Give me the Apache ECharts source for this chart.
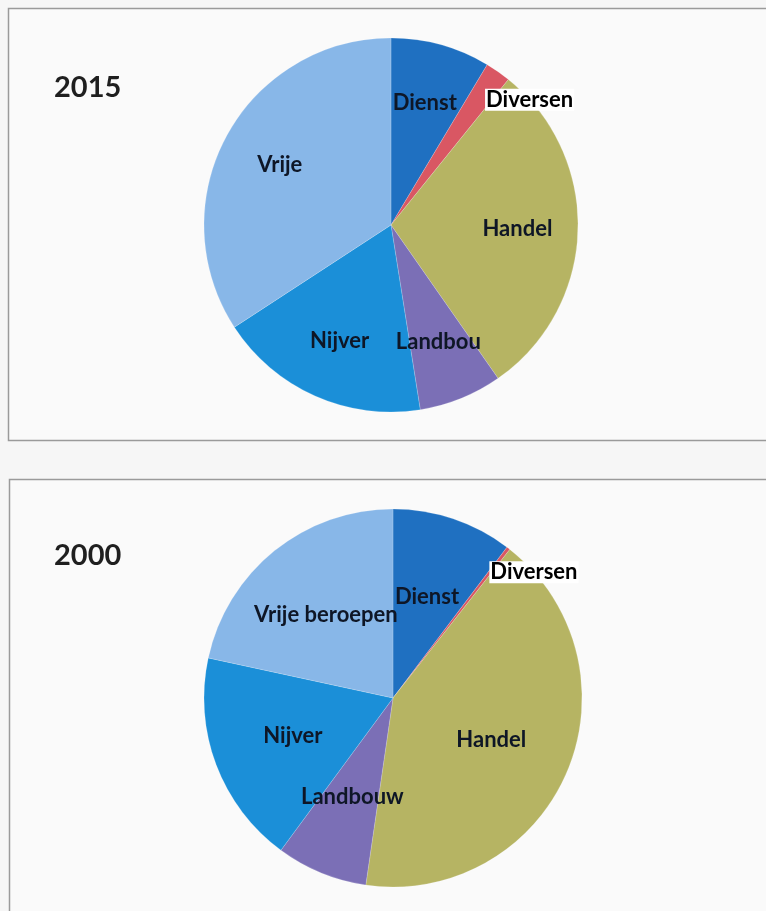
<!DOCTYPE html>
<html>
<head>
<meta charset="utf-8">
<script src="https://cdn.jsdelivr.net/npm/echarts@6/dist/echarts.min.js"></script>
<style>
  html, body { margin: 0; padding: 0; background: #f6f6f6; }
  #chart { width: 766px; height: 911px; }
</style>
</head>
<body>
<div id="chart"></div>
<script>
// Categories (full names) and the labels as they appear in each chart
const categories = ['Dienstverlening', 'Diversen', 'Handel', 'Landbouw', 'Nijverheid', 'Vrije beroepen'];
const labels2015 = ['Dienst', 'Diversen', 'Handel', 'Landbou', 'Nijver', 'Vrije'];
const labels2000 = ['Dienst', 'Diversen', 'Handel', 'Landbouw', 'Nijver', 'Vrije beroepen'];
// Shares in percent
const values2015 = [8.6, 2.2, 29.5, 7.2, 18.3, 34.2];
const values2000 = [10.3, 0.3, 41.7, 7.8, 18.3, 21.6];
const years = ['2015', '2000'];
const colors = ['#1f70c1', '#d95763', '#b6b463', '#7b6fb6', '#1b8fd8', '#88b7e8'];

const chart = echarts.init(document.getElementById('chart'));
const FONT = 'Lato, "Open Sans", sans-serif';

function sliceData(values) {
  return categories.map((c, i) => ({ name: c, value: values[i] }));
}

function labelData(values, labels, diversenOffset) {
  return categories.map((c, i) => ({
    name: c,
    value: values[i],
    label: labels[i] === 'Diversen'
      ? { position: 'outside', formatter: labels[i], backgroundColor: '#ffffff', padding: [0, 1], offset: diversenOffset, color: '#000000' }
      : { formatter: labels[i] },
    labelLine: { show: false, length: 0, length2: 0 }
  }));
}

const labelStyle = {
  show: true,
  position: 'inside',
  color: '#0e1626',
  fontFamily: FONT,
  fontWeight: 'bold',
  fontSize: 22
};

function pieSeries(name, center, r, values) {
  return {
    name: name,
    type: 'pie',
    center: center,
    radius: [0, r],
    startAngle: 90,
    clockwise: true,
    itemStyle: { borderColor: 'rgba(255,255,255,0.35)', borderWidth: 0.5 },
    label: { show: false },
    labelLine: { show: false },
    emphasis: { disabled: true },
    silent: true,
    data: sliceData(values)
  };
}

function labelSeries(name, center, r0, r, values, labels, diversenOffset) {
  return {
    name: name + ' labels',
    type: 'pie',
    center: center,
    radius: [r0, r],
    startAngle: 90,
    clockwise: true,
    avoidLabelOverlap: false,
    labelLayout: { hideOverlap: false },
    itemStyle: { color: 'rgba(0,0,0,0)', borderWidth: 0 },
    label: labelStyle,
    emphasis: { disabled: true },
    silent: true,
    z: 5,
    data: labelData(values, labels, diversenOffset)
  };
}

const titleStyle = { fontFamily: FONT, fontWeight: 'bold', fontSize: 29, color: '#1f1f1f' };

chart.setOption({
  backgroundColor: '#f6f6f6',
  animation: false,
  color: colors,
  title: [
    { text: years[0], left: 49, top: 68, textStyle: titleStyle },
    { text: years[1], left: 49, top: 536, textStyle: titleStyle }
  ],
  graphic: [
    { type: 'rect', z: -10, shape: { x: 8.5, y: 8.5, width: 770, height: 432 }, style: { fill: '#fafafa', stroke: '#9a9a9a', lineWidth: 1.5 } },
    { type: 'rect', z: -10, shape: { x: 9.5, y: 479.5, width: 770, height: 440 }, style: { fill: '#fafafa', stroke: '#9a9a9a', lineWidth: 1.5 } }
  ],
  series: [
    pieSeries(years[0], [391, 225], 187, values2015),
    pieSeries(years[1], [393, 698], 189, values2000),
    labelSeries(years[0], [391, 225], 60, 187, values2015, labels2015, [-18, 28]),
    labelSeries(years[1], [393, 698], 19, 189, values2000, labels2000, [-24, 24])
  ]
});
</script>
</body>
</html>
